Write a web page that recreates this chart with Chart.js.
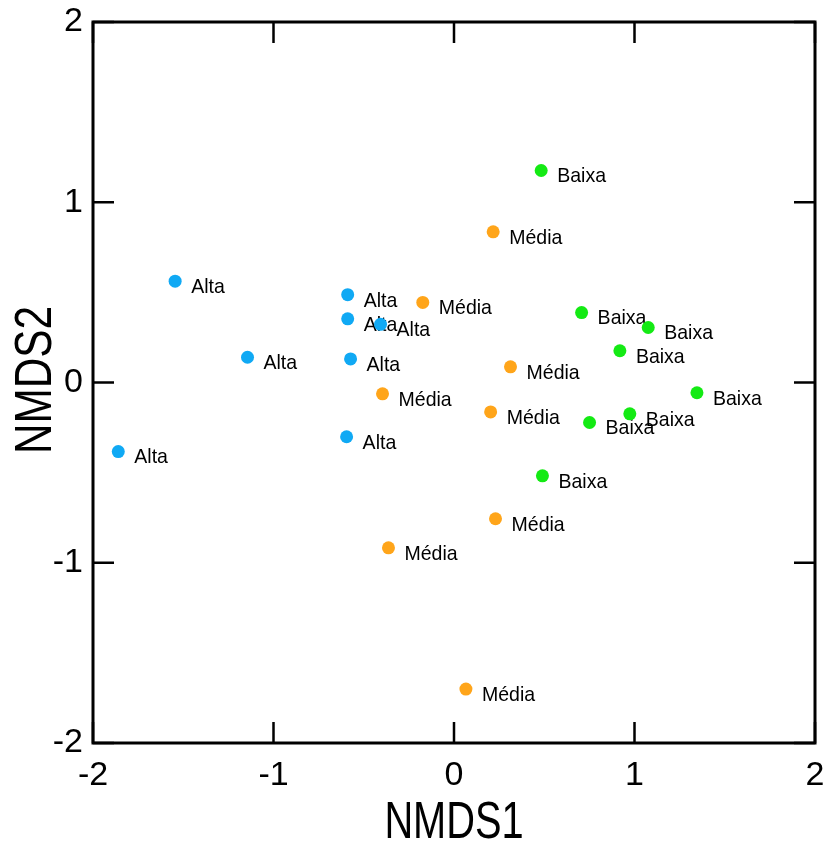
<!DOCTYPE html>
<html>
<head>
<meta charset="utf-8">
<script src="https://cdn.jsdelivr.net/npm/chart.js@4"></script>
<style>
html,body{margin:0;padding:0;background:#fff;}
#wrap{width:827px;height:841px;}
</style>
</head>
<body>
<div id="wrap"><canvas id="c" width="827" height="841"></canvas></div>
<script>
const altaX = [-1.545, -0.589, -0.589, -0.407, -1.144, -0.573, -0.595, -1.860];
const altaY = [0.562, 0.487, 0.353, 0.323, 0.140, 0.131, -0.301, -0.383];
const mediaX = [-0.173, -0.396, 0.217, 0.313, 0.203, 0.230, -0.363, 0.066];
const mediaY = [0.444, -0.063, 0.836, 0.087, -0.163, -0.756, -0.917, -1.701];
const baixaX = [0.483, 0.707, 1.076, 0.919, 1.346, 0.974, 0.751, 0.490];
const baixaY = [1.176, 0.388, 0.305, 0.176, -0.057, -0.174, -0.222, -0.518];
const groupNames = ['Alta', 'Média', 'Baixa'];
const axisTicks = [-2, -1, 0, 1, 2];
const xTitle = 'NMDS1';
const yTitle = 'NMDS2';

function pts(xs, ys) { return xs.map((x, i) => ({x: x, y: ys[i]})); }

const colors = ['#10a9f4', '#ffa51a', '#14ea14'];
const FAMILY = '"Liberation Sans", Arial, sans-serif';

const labelPlugin = {
  id: 'pointLabels',
  beforeDatasetsDraw(chart) {
    const ctx = chart.ctx;
    ctx.save();
    ctx.fillStyle = '#000';
    ctx.font = '21px ' + FAMILY;
    ctx.textBaseline = 'middle';
    ctx.textAlign = 'left';
    chart.data.datasets.forEach((ds, di) => {
      const meta = chart.getDatasetMeta(di);
      meta.data.forEach((el) => {
        ctx.save();
        ctx.translate(el.x + 16, el.y + 6);
        ctx.scale(0.93, 1);
        ctx.fillText(ds.label, 0, 0);
        ctx.restore();
      });
    });
    ctx.restore();
  }
};

const framePlugin = {
  id: 'frame',
  afterDraw(chart) {
    const ctx = chart.ctx;
    const a = chart.chartArea;
    const xs = chart.scales.x, ys = chart.scales.y;
    const tl = 21;
    ctx.save();
    ctx.strokeStyle = '#000';
    ctx.lineWidth = 2.5;
    axisTicks.forEach(v => {
      const px = xs.getPixelForValue(v);
      const py = ys.getPixelForValue(v);
      ctx.beginPath();
      ctx.moveTo(px, a.bottom); ctx.lineTo(px, a.bottom - tl);
      ctx.moveTo(px, a.top); ctx.lineTo(px, a.top + tl);
      ctx.moveTo(a.left, py); ctx.lineTo(a.left + tl, py);
      ctx.moveTo(a.right, py); ctx.lineTo(a.right - tl, py);
      ctx.stroke();
    });
    ctx.lineWidth = 3;
    ctx.strokeRect(a.left, a.top, a.right - a.left, a.bottom - a.top);

    // axis titles (condensed, as in the reference)
    ctx.fillStyle = '#000';
    ctx.font = '51px ' + FAMILY;
    ctx.textAlign = 'center';
    ctx.textBaseline = 'alphabetic';
    ctx.save();
    ctx.translate((a.left + a.right) / 2, 838);
    ctx.scale(0.78, 1);
    ctx.fillText(xTitle, 0, 0);
    ctx.restore();
    ctx.save();
    ctx.translate(51, 380);
    ctx.rotate(-Math.PI / 2);
    ctx.scale(0.83, 1);
    ctx.fillText(yTitle, 0, 0);
    ctx.restore();
    ctx.restore();
  }
};

const tickFont = {family: FAMILY, size: 34};

new Chart(document.getElementById('c'), {
  type: 'scatter',
  data: {
    datasets: [
      {label: groupNames[0], data: pts(altaX, altaY), backgroundColor: colors[0], borderWidth: 0, pointRadius: 6.5},
      {label: groupNames[1], data: pts(mediaX, mediaY), backgroundColor: colors[1], borderWidth: 0, pointRadius: 6.5},
      {label: groupNames[2], data: pts(baixaX, baixaY), backgroundColor: colors[2], borderWidth: 0, pointRadius: 6.5}
    ]
  },
  options: {
    responsive: false,
    animation: false,
    devicePixelRatio: 1,
    layout: {padding: {top: 22, right: 12, left: 0, bottom: 0}},
    plugins: {legend: {display: false}, tooltip: {enabled: false}},
    scales: {
      x: {
        type: 'linear', min: -2, max: 2,
        afterBuildTicks(s) { s.ticks = axisTicks.map(v => ({value: v})); },
        afterFit(s) { s.height = 98; s.paddingLeft = 0; s.paddingRight = 0; },
        grid: {display: false, drawTicks: false},
        border: {display: false},
        ticks: {font: tickFont, color: '#000', padding: 12, maxRotation: 0},
        title: {display: false}
      },
      y: {
        type: 'linear', min: -2, max: 2,
        afterBuildTicks(s) { s.ticks = axisTicks.map(v => ({value: v})); },
        afterFit(s) { s.width = 93; s.paddingTop = 0; s.paddingBottom = 0; },
        grid: {display: false, drawTicks: false},
        border: {display: false},
        ticks: {font: tickFont, color: '#000', padding: 10},
        title: {display: false}
      }
    }
  },
  plugins: [labelPlugin, framePlugin]
});
</script>
</body>
</html>
